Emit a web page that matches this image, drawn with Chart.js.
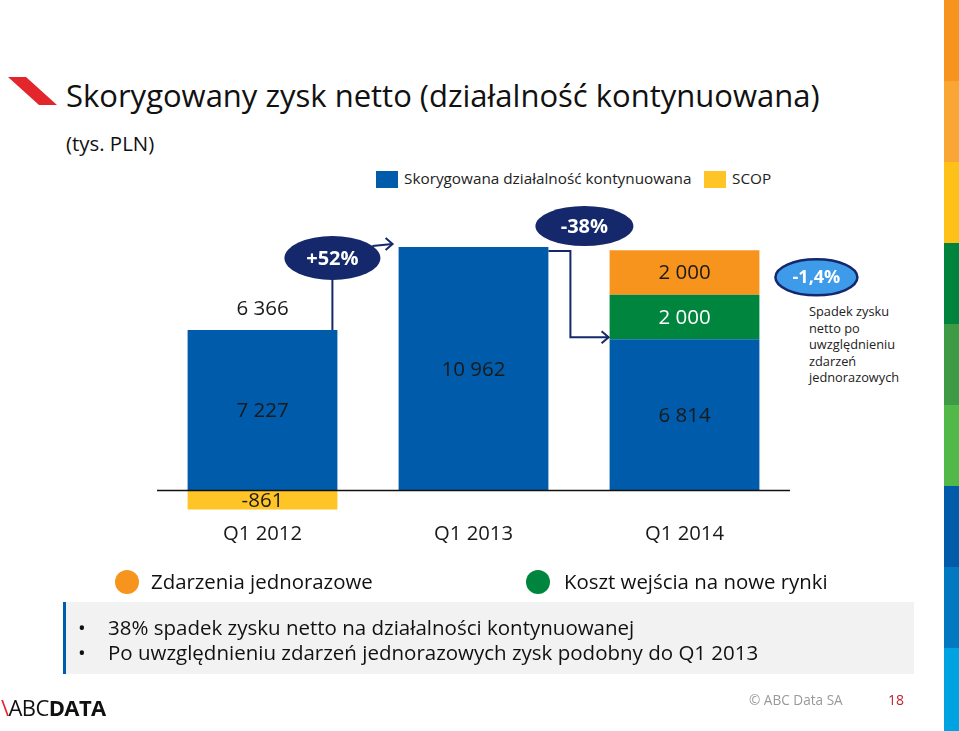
<!DOCTYPE html>
<html>
<head>
<meta charset="utf-8">
<script src="https://cdn.jsdelivr.net/npm/chart.js@4.4.1/dist/chart.umd.min.js"></script>
<style>
  body { margin: 0; width: 959px; height: 731px; position: relative; overflow: hidden; background: #fff;
         font-family: "Open Sans", "Noto Sans", sans-serif; color: #111; }
  .abs { position: absolute; white-space: nowrap; }
  #chartBox { position: absolute; left: 0; top: 0; width: 959px; height: 731px; }
  .strip { position: absolute; left: 944px; width: 15px; }
</style>
</head>
<body>
<svg class="abs" style="left:0;top:0" width="70" height="120">
  <polygon points="8,77 26,77 57,105 39,105" fill="#e3262b"/>
</svg>
<div class="abs" style="left:66px;top:74px;font-size:31px;">Skorygowany zysk netto (działalność kontynuowana)</div>
<div class="abs" style="left:66px;top:129px;font-size:20.4px;">(tys. PLN)</div>

<div class="abs" style="left:376px;top:171px;width:22px;height:17px;background:#005bab"></div>
<div class="abs" style="left:404px;top:168px;font-size:15.3px;color:#222">Skorygowana działalność kontynuowana</div>
<div class="abs" style="left:704px;top:171px;width:22px;height:17px;background:#ffc425"></div>
<div class="abs" style="left:732px;top:168px;font-size:15.3px;color:#222">SCOP</div>

<div class="abs" style="left:809px;top:303px;font-size:12.8px;line-height:16.5px;color:#222">Spadek zysku<br>netto po<br>uwzględnieniu<br>zdarzeń<br>jednorazowych</div>

<div id="chartBox"><canvas id="chart"></canvas></div>

<div class="abs" style="left:115px;top:570px;width:24px;height:24px;border-radius:50%;background:#f7941d"></div>
<div class="abs" style="left:151px;top:567px;font-size:20.4px;">Zdarzenia jednorazowe</div>
<div class="abs" style="left:526px;top:570px;width:24px;height:24px;border-radius:50%;background:#00853f"></div>
<div class="abs" style="left:564px;top:567px;font-size:20.4px;">Koszt wejścia na nowe rynki</div>

<div class="abs" style="left:63px;top:602px;width:848px;height:72px;background:#f2f2f2;border-left:3px solid #005bab"></div>
<div class="abs" style="left:78px;top:613px;font-size:20.5px;">•</div>
<div class="abs" style="left:108px;top:613px;font-size:20.5px;">38% spadek zysku netto na działalności kontynuowanej</div>
<div class="abs" style="left:78px;top:638px;font-size:20.5px;">•</div>
<div class="abs" style="left:108px;top:638px;font-size:20.5px;">Po uwzględnieniu zdarzeń jednorazowych zysk podobny do Q1 2013</div>

<div class="abs" style="left:1px;top:692px;font-size:22px;letter-spacing:-0.6px;color:#111"><span style="color:#e3262b">\</span>ABC<b>DATA</b></div>
<div class="abs" style="left:749px;top:690px;font-size:13.6px;color:#999">© ABC Data SA</div>
<div class="abs" style="left:888px;top:690px;font-size:14px;color:#c0202a">18</div>

<div class="strip" style="top:0;height:81px;background:#f7941d"></div>
<div class="strip" style="top:81px;height:81px;background:#faa634"></div>
<div class="strip" style="top:162px;height:81px;background:#fdc117"></div>
<div class="strip" style="top:243px;height:81px;background:#00843d"></div>
<div class="strip" style="top:324px;height:81px;background:#3f9a45"></div>
<div class="strip" style="top:405px;height:81px;background:#52b848"></div>
<div class="strip" style="top:486px;height:81px;background:#005ba9"></div>
<div class="strip" style="top:567px;height:81px;background:#0079c1"></div>
<div class="strip" style="top:648px;height:83px;background:#00a3e2"></div>

<script>
// data (tys. PLN)
const categories = ['Q1 2012', 'Q1 2013', 'Q1 2014'];
const adjusted = [7227, 10962, 6814];      // Skorygowana działalność kontynuowana
const scop = [-861, null, null];           // SCOP
const marketEntry = [null, null, 2000];    // Koszt wejścia na nowe rynki
const oneOff = [null, null, 2000];         // Zdarzenia jednorazowe
const changes = ['+52%', '-38%', '-1,4%'];

const fmt = v => String(v).replace(/\B(?=(\d{3})+(?!\d))/g, ' ');
const NAVY = '#14286b';

function ellipse(ctx, x, y, rx, ry, fill, stroke) {
  ctx.beginPath();
  ctx.ellipse(x, y, rx, ry, 0, 0, Math.PI * 2);
  ctx.fillStyle = fill;
  ctx.fill();
  if (stroke) { ctx.lineWidth = 2.5; ctx.strokeStyle = stroke; ctx.stroke(); }
}
function arrowHead(ctx, x, y) {
  ctx.beginPath();
  ctx.moveTo(x - 7, y - 6);
  ctx.lineTo(x, y);
  ctx.lineTo(x - 7, y + 6);
  ctx.stroke();
}

const annotations = {
  id: 'annotations',
  afterDatasetsDraw(chart) {
    const ctx = chart.ctx;
    const yScale = chart.scales.y;
    const area = chart.chartArea;
    const blue = chart.getDatasetMeta(0).data;
    const yellow = chart.getDatasetMeta(1).data;
    const green = chart.getDatasetMeta(2).data;
    const orange = chart.getDatasetMeta(3).data;
    ctx.save();

    // zero line
    const y0 = yScale.getPixelForValue(0);
    ctx.strokeStyle = '#111';
    ctx.lineWidth = 1.5;
    ctx.beginPath();
    ctx.moveTo(area.left, y0);
    ctx.lineTo(area.right, y0);
    ctx.stroke();

    // segment labels
    ctx.font = '20.5px "Open Sans"';
    ctx.textAlign = 'center';
    ctx.textBaseline = 'middle';
    const seg = (el, v, color) => {
      ctx.fillStyle = color;
      ctx.fillText(fmt(v), el.x, (el.y + el.base) / 2 + 1);
    };
    blue.forEach((el, i) => seg(el, adjusted[i], '#1a1a1a'));
    seg(yellow[0], scop[0], '#1a1a1a');
    seg(green[2], marketEntry[2], '#ffffff');
    seg(orange[2], oneOff[2], '#1a1a1a');
    // net total above the first bar
    ctx.fillStyle = '#1a1a1a';
    ctx.fillText(fmt(adjusted[0] + scop[0]), blue[0].x, blue[0].y - 21);

    const half = el => el.width / 2;
    ctx.strokeStyle = NAVY;
    ctx.lineWidth = 2;

    // +52%
    const b0r = blue[0].x + half(blue[0]);
    const b1l = blue[1].x - half(blue[1]);
    const e1x = b0r - 5, e1y = blue[1].y + 11;
    ctx.beginPath();
    ctx.moveTo(e1x, e1y + 20);
    ctx.lineTo(e1x, blue[0].y);
    ctx.stroke();
    ctx.beginPath();
    ctx.moveTo(e1x + 40, e1y - 12);
    ctx.lineTo(b1l - 6, e1y - 14);
    ctx.stroke();
    arrowHead(ctx, b1l - 6, e1y - 14);
    ellipse(ctx, e1x, e1y, 48, 22, NAVY);

    // -38%
    const b1r = blue[1].x + half(blue[1]);
    const b2l = blue[2].x - half(blue[2]);
    const e2x = b1r + 36, e2y = blue[1].y - 21;
    ctx.beginPath();
    ctx.moveTo(b1r, blue[1].y + 4);
    ctx.lineTo(b1r + 22, blue[1].y + 4);
    ctx.lineTo(b1r + 22, blue[2].y - 2);
    ctx.lineTo(b2l - 1, blue[2].y - 2);
    ctx.stroke();
    arrowHead(ctx, b2l - 1, blue[2].y - 2);
    ellipse(ctx, e2x, e2y, 49, 20, NAVY);

    // -1,4%
    const b2r = blue[2].x + half(blue[2]);
    const e3x = b2r + 57, e3y = orange[2].y + 27;
    ellipse(ctx, e3x, e3y, 41, 18, '#3d9be9', NAVY);

    ctx.fillStyle = '#ffffff';
    ctx.font = 'bold 20px "Open Sans"';
    ctx.fillText(changes[0], e1x, e1y + 1);
    ctx.fillText(changes[1], e2x, e2y + 1);
    ctx.font = 'bold 18px "Open Sans"';
    ctx.fillText(changes[2], e3x, e3y + 1);
    ctx.restore();
  }
};

new Chart(document.getElementById('chart'), {
  type: 'bar',
  data: {
    labels: categories,
    datasets: [
      { label: 'Skorygowana działalność kontynuowana', data: adjusted, backgroundColor: '#005bab' },
      { label: 'SCOP', data: scop, backgroundColor: '#ffc425' },
      { label: 'Koszt wejścia na nowe rynki', data: marketEntry, backgroundColor: '#00853f' },
      { label: 'Zdarzenia jednorazowe', data: oneOff, backgroundColor: '#f7941d' }
    ]
  },
  options: {
    responsive: true,
    maintainAspectRatio: false,
    animation: false,
    layout: { padding: { left: 157, right: 169, top: 224, bottom: 184 } },
    datasets: { bar: { categoryPercentage: 0.71, barPercentage: 1, borderWidth: 0 } },
    plugins: { legend: { display: false }, tooltip: { enabled: false } },
    scales: {
      x: {
        stacked: true,
        grid: { display: false },
        border: { display: false },
        ticks: { color: '#1a1a1a', padding: 1, font: { family: 'Open Sans', size: 20.3 } }
      },
      y: {
        stacked: true,
        display: false,
        min: -1000,
        max: 12000
      }
    }
  },
  plugins: [annotations]
});
</script>
</body>
</html>
